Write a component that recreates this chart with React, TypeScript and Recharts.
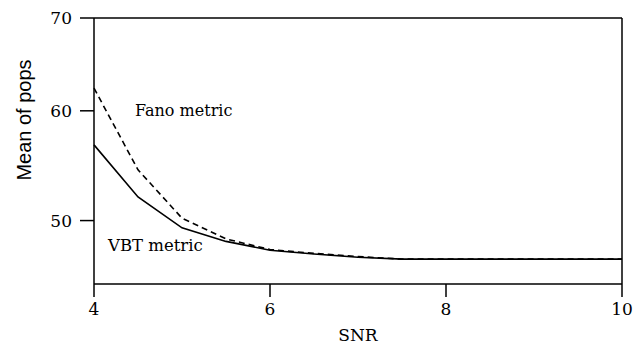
import React from 'react';
import { LineChart, Line, XAxis, YAxis, ReferenceLine } from 'recharts';

const snr = [4, 4.5, 5, 5.5, 6, 6.5, 7, 7.5, 8, 8.5, 9, 9.5, 10];
const vbt = [56.7, 52.0, 49.4, 48.3, 47.6, 47.3, 47.05, 46.9, 46.9, 46.9, 46.9, 46.9, 46.9];
const fano = [62.3, 54.4, 50.2, 48.5, 47.65, 47.35, 47.1, 46.9, 46.9, 46.9, 46.9, 46.9, 46.9];

const xTicks = [4, 6, 8, 10];
const yTicks = [50, 60, 70];

const data = snr.map((s, i) => ({ snr: s, vbt: vbt[i], fano: fano[i] }));

const serif = '"DejaVu Serif", serif';
const sans = '"Liberation Sans", Arial, sans-serif';

const YLabel = (props: any) => {
    const { viewBox } = props;
    const x = 24;
    const y = viewBox.y + viewBox.height / 2 - 31;
    return (
        <text x={x} y={y} transform={`rotate(-90 ${x} ${y})`} textAnchor="middle" dominantBaseline="central"
            style={{ fontFamily: sans, fontSize: 20 }} fill="#000">
            Mean of pops
        </text>
    );
};

const App: React.FC = () => {
    return (
        <div style={{ position: 'absolute', left: 0, top: 0, background: '#fff', fontFamily: serif }}>
            <LineChart width={641} height={349} data={data} margin={{ top: 18, right: 19, left: 0, bottom: 0 }}>
                <XAxis
                    dataKey="snr"
                    type="number"
                    domain={[4, 10]}
                    ticks={xTicks}
                    height={65}
                    tickSize={13}
                    tickMargin={6}
                    axisLine={{ stroke: '#000', strokeWidth: 1.5 }}
                    tickLine={{ stroke: '#000', strokeWidth: 1.5 }}
                    tick={{ fill: '#000', style: { fontFamily: serif, fontSize: 17 } }}
                    label={{ value: 'SNR', position: 'insideBottom', offset: 8, fill: '#000', style: { fontFamily: serif, fontSize: 17 } }}
                />
                <YAxis
                    type="number"
                    scale="log"
                    domain={[45, 70]}
                    allowDataOverflow
                    ticks={yTicks}
                    width={94}
                    tickSize={14}
                    tickMargin={8}
                    axisLine={{ stroke: '#000', strokeWidth: 1.5 }}
                    tickLine={{ stroke: '#000', strokeWidth: 1.5 }}
                    tick={{ fill: '#000', style: { fontFamily: serif, fontSize: 17 } }}
                    label={<YLabel />}
                />
                <ReferenceLine y={70} stroke="#000" strokeWidth={1.5} />
                <ReferenceLine x={10} stroke="#000" strokeWidth={1.5} />
                <Line dataKey="fano" stroke="#000" strokeWidth={1.6} strokeDasharray="6 4" dot={false} isAnimationActive={false} />
                <Line dataKey="vbt" stroke="#000" strokeWidth={1.6} dot={false} isAnimationActive={false} />
                <text x={135} y={110} dominantBaseline="central" style={{ fontFamily: serif, fontSize: 16 }} fill="#000">Fano metric</text>
                <text x={108} y={245} dominantBaseline="central" style={{ fontFamily: serif, fontSize: 16.5 }} fill="#000">VBT metric</text>
            </LineChart>
        </div>
    );
};

export default App;
